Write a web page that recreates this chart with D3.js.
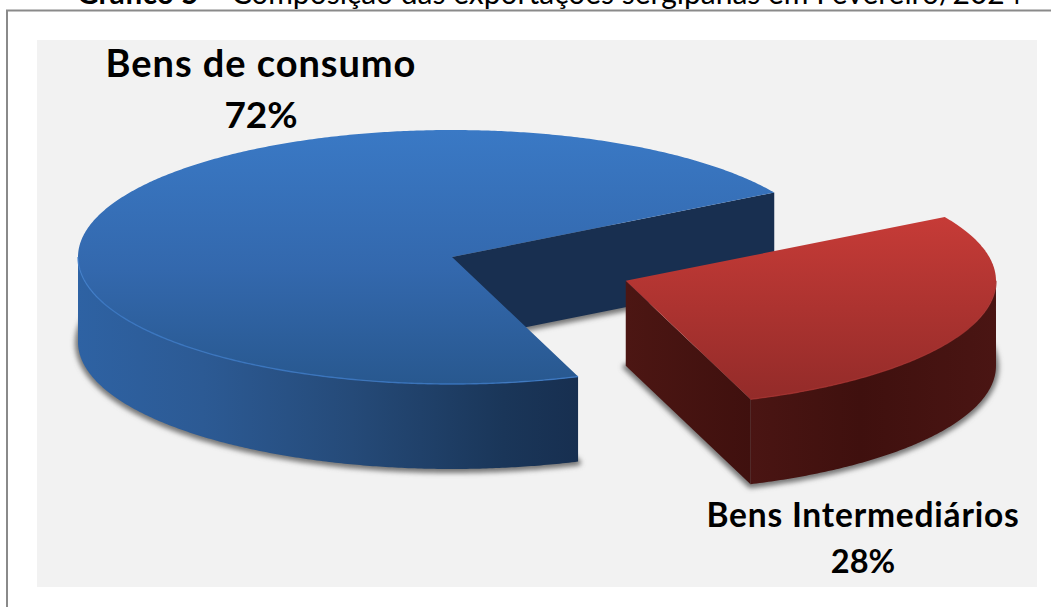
<!DOCTYPE html>
<html lang="pt">
<head>
<meta charset="utf-8">
<title>Composição das exportações sergipanas</title>
<script src="https://cdn.jsdelivr.net/npm/d3@7/dist/d3.min.js"></script>
<style>
  html, body { margin: 0; padding: 0; background: #fff; overflow: hidden; }
  svg { display: block; }
  text { font-family: Lato, "Open Sans", sans-serif; fill: #000; }
</style>
</head>
<body>
<div id="chart"></div>
<script>
// Export composition by category, in percent
const categories = ["Bens de consumo", "Bens Intermediários"];
const shares = [72, 28];
const shareLabels = ["72%", "28%"];
const titleLead = "Gráfico 5";
const titleRest = " – Composição das exportações sergipanas em Fevereiro/2024";

const W = 1051, H = 607;
const svg = d3.select("#chart").append("svg").attr("width", W).attr("height", H);
const defs = svg.append("defs");

// Page frame and panel
svg.append("path").attr("d", `M${W},10.5H7V${H}`).attr("fill", "none").attr("stroke", "#8a8a8a").attr("stroke-width", 2);
svg.append("rect").attr("x", 37).attr("y", 40).attr("width", 1000).attr("height", 547).attr("fill", "#f2f2f2");

// Title, clipped by the top edge of the page
const title = svg.append("text").attr("x", 77).attr("y", 4).attr("font-size", 30);
title.append("tspan").attr("font-weight", 700).text(titleLead);
title.append("tspan").text(titleRest);

// Tilted pie geometry
const DEG = Math.PI / 180;
const TAU = 2 * Math.PI;
const centre = { x: 452, y: 257 };
const radiusX = 374, radiusY = 127, depth = 85;
const explodeBy = [0, 0.494];    // pull-out of each slice, as a fraction of the radius
const sinkBy = [0, 2.5];         // pulled-out slices sit a little lower on the page
const shrinkBy = [1, 0.99];      // pulled-out slices render slightly smaller

const pie = d3.pie().sort(null).startAngle(160.3 * DEG).endAngle((160.3 + 360) * DEG);
const arcs = pie(shares);

// Projection of pie coordinates (-1..1) on the page for a slice
const projector = i => {
  const mid = (arcs[i].startAngle + arcs[i].endAngle) / 2;
  const ox = explodeBy[i] * radiusX * Math.sin(mid);
  const oy = -explodeBy[i] * radiusY * Math.cos(mid) + sinkBy[i];
  const k = shrinkBy[i];
  const px = d3.scaleLinear().domain([-1, 1]).range([centre.x + ox - radiusX * k, centre.x + ox + radiusX * k]);
  const py = d3.scaleLinear().domain([-1, 1]).range([centre.y + oy - radiusY * k, centre.y + oy + radiusY * k]);
  const at = (angle, drop = 0) => [px(Math.sin(angle)), py(-Math.cos(angle)) + drop];
  at.hub = (drop = 0) => [px(0), py(0) + drop];
  return at;
};
const arcPoints = (p, a0, a1, drop = 0) => {
  const n = Math.max(2, Math.ceil(Math.abs(a1 - a0) / (0.5 * DEG)));
  return d3.range(n + 1).map(k => p(a0 + (a1 - a0) * k / n, drop));
};
const line = d3.line();
const closed = pts => line(pts) + "Z";

// Part of a slice's outer edge on the near side of the pie (90° to 270° from the top)
const nearRange = d => {
  const turn = Math.floor(d.startAngle / TAU) * TAU;
  return [Math.max(d.startAngle, turn + 90 * DEG), Math.min(d.endAngle, turn + 270 * DEG)];
};

// Gradients
function gradient(id, horizontal, from, to, stops) {
  const g = defs.append("linearGradient").attr("id", id).attr("gradientUnits", "userSpaceOnUse")
    .attr("x1", horizontal ? from : 0).attr("x2", horizontal ? to : 0)
    .attr("y1", horizontal ? 0 : from).attr("y2", horizontal ? 0 : to);
  stops.forEach(([o, c]) => g.append("stop").attr("offset", o).attr("stop-color", c));
}
gradient("topBlue", false, 130, 384, [[0, "#3a79c5"], [0.55, "#3368ad"], [1, "#28588f"]]);
gradient("wallBlue", true, 78, 578, [[0, "#2e62a3"], [0.25, "#2c5a94"], [0.55, "#254a78"], [0.85, "#1a3659"], [1, "#172f50"]]);
gradient("topRed", false, 217, 400, [[0, "#c63b37"], [1, "#932b29"]]);
gradient("wallRed", true, 750, 996, [[0, "#4a1513"], [0.45, "#3f100e"], [1, "#4a1513"]]);
gradient("faceRed", true, 626, 752, [[0, "#4c1613"], [1, "#3f100e"]]);

const blur = defs.append("filter").attr("id", "soft").attr("x", "-10%").attr("y", "-10%").attr("width", "120%").attr("height", "120%");
blur.append("feGaussianBlur").attr("stdDeviation", 2.4);

// Cast shadows below the bases
const shadowLayer = svg.append("g").attr("filter", "url(#soft)");
arcs.forEach((d, i) => {
  const p = projector(i);
  const outline = [p.hub(depth + 1), ...arcPoints(p, d.startAngle, d.endAngle, depth + 1)];
  shadowLayer.append("path").attr("d", closed(outline))
    .attr("fill", "#777").attr("stroke", "#777").attr("stroke-width", 6).attr("stroke-linejoin", "round");
});

const styles = [
  { wall: "url(#wallBlue)", face: "#182f50", top: "url(#topBlue)", rim: "#3d7cc9" },
  { wall: "url(#wallRed)", face: "url(#faceRed)", top: "url(#topRed)", rim: "#a8322f" }
];

arcs.forEach((d, i) => {
  const p = projector(i), s = styles[i];

  // Radial cut face that looks towards the viewer
  svg.append("path")
    .attr("d", closed([p.hub(), p(d.endAngle), p(d.endAngle, depth), p.hub(depth)]))
    .attr("fill", s.face);

  // Outer wall, near side only
  const [a0, a1] = nearRange(d);
  svg.append("path")
    .attr("d", closed([...arcPoints(p, a0, a1), ...arcPoints(p, a1, a0, depth)]))
    .attr("fill", s.wall);

  // Top face
  svg.append("path").attr("d", closed([p.hub(), ...arcPoints(p, d.startAngle, d.endAngle)])).attr("fill", s.top);

  // Highlight along the near rim
  svg.append("path").attr("d", line(arcPoints(p, a0, a1)))
    .attr("fill", "none").attr("stroke", s.rim).attr("stroke-width", 1.4).attr("stroke-opacity", 0.8);
});

// Slice labels
const labelSpots = [
  { x: 261, y: 77, y2: 128, size: 38, spacing: 0.95, size2: 37 },
  { x: 863, y: 527, y2: 573, size: 33.5, spacing: 0.8, size2: 32.5 }
];
categories.forEach((name, i) => {
  const spot = labelSpots[i];
  const g = svg.append("g").attr("text-anchor", "middle").attr("font-weight", 700);
  g.append("text").attr("x", spot.x).attr("y", spot.y)
    .attr("font-size", spot.size).attr("letter-spacing", spot.spacing).text(name);
  g.append("text").attr("x", spot.x).attr("y", spot.y2)
    .attr("font-size", spot.size2).text(shareLabels[i]);
});
</script>
</body>
</html>
